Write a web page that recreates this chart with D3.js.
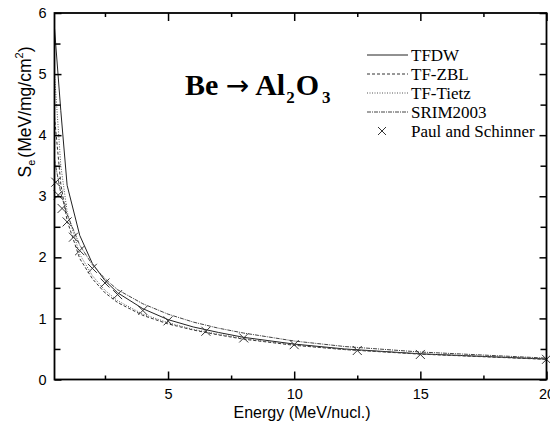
<!DOCTYPE html>
<html>
<head>
<meta charset="utf-8">
<script src="https://cdn.jsdelivr.net/npm/d3@7"></script>
<style>
  body { margin: 0; background: #fff; }
  svg { display: block; }
</style>
</head>
<body>
<svg id="chart" width="550" height="421"></svg>
<script>
// energies (MeV/nucl.) where the model curves are sampled
var energy = [0.5, 0.75, 1, 1.5, 2, 2.5, 3, 4, 5, 6, 7, 8, 10, 12, 15, 20];

var tfdw    = [5.75, 4.40, 3.18, 2.36, 1.90, 1.62, 1.42, 1.16, 0.98, 0.86, 0.77, 0.69, 0.58, 0.50, 0.42, 0.335];
var tfZbl   = [4.30, 3.20, 2.60, 1.98, 1.65, 1.42, 1.26, 1.05, 0.91, 0.81, 0.73, 0.66, 0.56, 0.49, 0.415, 0.33];
var tfTietz = [5.00, 3.50, 2.75, 2.05, 1.70, 1.46, 1.29, 1.07, 0.93, 0.82, 0.74, 0.67, 0.565, 0.49, 0.42, 0.335];
var srim    = [3.60, 3.05, 2.70, 2.20, 1.88, 1.65, 1.47, 1.24, 1.07, 0.94, 0.84, 0.76, 0.63, 0.54, 0.45, 0.35];

// Paul and Schinner data points
var paulE = [0.55, 0.65, 0.8, 1.0, 1.25, 1.5, 2.0, 2.5, 3.0, 4.0, 5.0, 6.5, 8.0, 10.0, 12.5, 15.0, 20.0];
var paulS = [3.23, 3.02, 2.80, 2.58, 2.33, 2.11, 1.82, 1.58, 1.39, 1.13, 0.96, 0.79, 0.68, 0.57, 0.475, 0.41, 0.33];

var xMajor = [5, 10, 15, 20];
var xMinor = [2.5, 7.5, 12.5, 17.5];
var yMajor = [0, 1, 2, 3, 4, 5, 6];
var yMinor = [0.5, 1.5, 2.5, 3.5, 4.5, 5.5];

var legendNames = ["TFDW", "TF-ZBL", "TF-Tietz", "SRIM2003", "Paul and Schinner"];

var plotL = 54.5, plotR = 546.5, plotT = 13, plotB = 379.5;

var svg = d3.select("#chart");

var x = d3.scaleLinear().domain([0.5, 20]).range([plotL, plotR]);
var y = d3.scaleLinear().domain([0, 6]).range([plotB, plotT]);

var sans = "Arial, 'Liberation Sans', sans-serif";
var serif = "'Times New Roman', 'Liberation Serif', serif";

// curves
var series = [
    { vals: tfdw, dash: null, color: "#222", w: 1 },
    { vals: tfZbl, dash: "3,2", color: "#333", w: 1 },
    { vals: tfTietz, dash: "1,1.5", color: "#555", w: 1 },
    { vals: srim, dash: "4,1,1,1", color: "#444", w: 1 }
];

var line = d3.line()
    .x(function (d) { return x(d[0]); })
    .y(function (d) { return y(d[1]); });

series.forEach(function (s) {
    svg.append("path")
        .datum(energy.map(function (e, i) { return [e, s.vals[i]]; }))
        .attr("d", line)
        .attr("fill", "none")
        .attr("stroke", s.color)
        .attr("stroke-width", s.w)
        .attr("stroke-dasharray", s.dash);
});

// crosses
var cross = function (g, cx, cy, r) {
    g.append("path")
        .attr("d", "M" + (cx - r) + "," + (cy - r) + "L" + (cx + r) + "," + (cy + r) +
            "M" + (cx - r) + "," + (cy + r) + "L" + (cx + r) + "," + (cy - r))
        .attr("stroke", "#333")
        .attr("stroke-width", 1)
        .attr("fill", "none");
};
paulE.forEach(function (e, i) {
    cross(svg, x(e), y(paulS[i]), 4.5);
});

// axes: inward ticks on all four sides
svg.append("g").attr("transform", "translate(0," + plotB + ")")
    .call(d3.axisBottom(x).tickValues(xMajor).tickSizeInner(-8).tickSizeOuter(0).tickPadding(9)
        .tickFormat(d3.format("d")));
svg.append("g").attr("transform", "translate(0," + plotB + ")")
    .call(d3.axisBottom(x).tickValues(xMinor).tickSizeInner(-4).tickSizeOuter(0).tickFormat(""));
svg.append("g").attr("transform", "translate(0," + plotT + ")")
    .call(d3.axisTop(x).tickValues(xMajor).tickSizeInner(-8).tickSizeOuter(0).tickFormat(""));
svg.append("g").attr("transform", "translate(0," + plotT + ")")
    .call(d3.axisTop(x).tickValues(xMinor).tickSizeInner(-4).tickSizeOuter(0).tickFormat(""));

svg.append("g").attr("transform", "translate(" + plotL + ",0)")
    .call(d3.axisLeft(y).tickValues(yMajor).tickSizeInner(-7).tickSizeOuter(0).tickPadding(8)
        .tickFormat(d3.format("d")));
svg.append("g").attr("transform", "translate(" + plotL + ",0)")
    .call(d3.axisLeft(y).tickValues(yMinor).tickSizeInner(-6).tickSizeOuter(0).tickFormat(""));
svg.append("g").attr("transform", "translate(" + plotR + ",0)")
    .call(d3.axisRight(y).tickValues(yMajor).tickSizeInner(-7).tickSizeOuter(0).tickFormat(""));
svg.append("g").attr("transform", "translate(" + plotR + ",0)")
    .call(d3.axisRight(y).tickValues(yMinor).tickSizeInner(-6).tickSizeOuter(0).tickFormat(""));

svg.selectAll(".domain").remove();
svg.selectAll(".tick line").attr("stroke", "#000").attr("stroke-width", 1.5);
svg.selectAll(".tick text").attr("font-family", sans).attr("font-size", 14.5).attr("fill", "#000");

// frame
svg.append("rect")
    .attr("x", plotL).attr("y", plotT)
    .attr("width", plotR - plotL).attr("height", plotB - plotT)
    .attr("fill", "none").attr("stroke", "#000").attr("stroke-width", 1.8);

// axis titles
svg.append("text")
    .attr("x", 302).attr("y", 418)
    .attr("text-anchor", "middle")
    .attr("font-family", sans).attr("font-size", 16)
    .text("Energy (MeV/nucl.)");

var yt = svg.append("text")
    .attr("transform", "translate(31,112) rotate(-90)")
    .attr("text-anchor", "middle")
    .attr("font-family", sans).attr("font-size", 17.5);
yt.append("tspan").text("S");
yt.append("tspan").attr("font-size", 11).attr("dy", 4).text("e");
yt.append("tspan").attr("dy", -4).attr("dx", 2).text("(MeV/mg/cm");
yt.append("tspan").attr("font-size", 11).attr("dy", -8).text("2");
yt.append("tspan").attr("dy", 8).text(")");

// title
var tt = svg.append("text")
    .attr("x", 185).attr("y", 95)
    .attr("font-family", serif).attr("font-size", 30).attr("font-weight", "bold");
tt.append("tspan").text("Be ");
tt.append("tspan").attr("font-family", "'DejaVu Sans', sans-serif").attr("font-weight", "normal")
    .attr("font-size", 28).text("\u2192");
tt.append("tspan").text(" Al");
tt.append("tspan").attr("font-size", 17).attr("dy", 8).attr("dx", 1).text("2");
tt.append("tspan").attr("dy", -8).attr("dx", 1).text("O");
tt.append("tspan").attr("font-size", 17).attr("dy", 8).attr("dx", 3).text("3");

// legend
var legY = [55, 74, 93, 112, 131];
var leg = svg.append("g");
legendNames.forEach(function (name, i) {
    if (i < 4) {
        leg.append("line")
            .attr("x1", 367).attr("x2", 408)
            .attr("y1", legY[i]).attr("y2", legY[i])
            .attr("stroke", series[i].color)
            .attr("stroke-width", 1)
            .attr("stroke-dasharray", series[i].dash);
    } else {
        cross(leg, 382, legY[i], 4);
    }
    leg.append("text")
        .attr("x", 411).attr("y", legY[i] + 5.5)
        .attr("font-family", serif).attr("font-size", 17)
        .text(name);
});
</script>
</body>
</html>
